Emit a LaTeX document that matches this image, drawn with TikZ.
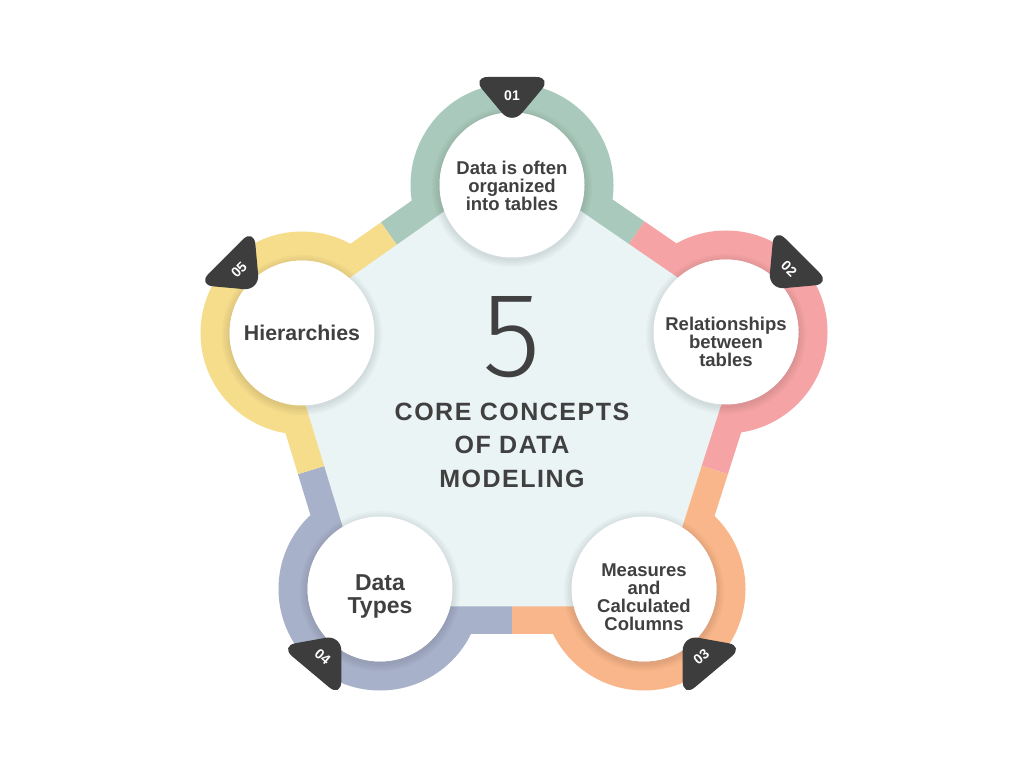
\documentclass[tikz,border=0pt]{standalone}
\usepackage{fontspec}
\setmainfont{Liberation Sans}
\newfontfamily\titlefont{Liberation Sans}[LetterSpace=6]
\IfFontExistsTF{Fira Sans Light}{\newfontfamily\lightfont{Fira Sans Light}}{%
  \IfFontExistsTF{Lato Light}{\newfontfamily\lightfont{Lato Light}}{%
    \IfFontExistsTF{Open Sans Light}{\newfontfamily\lightfont{Open Sans Light}}{%
      \newfontfamily\lightfont{Liberation Sans}}}}
\usetikzlibrary{calc}
\definecolor{cg}{HTML}{A8C9BB}
\definecolor{cp}{HTML}{F5A3A4}
\definecolor{co}{HTML}{F9B68A}
\definecolor{cb}{HTML}{A7B1CA}
\definecolor{cy}{HTML}{F6DD8C}
\definecolor{bgc}{HTML}{EAF4F5}
\definecolor{dk}{HTML}{3D3D3D}
\definecolor{txt}{HTML}{404040}
\begin{document}
\begin{tikzpicture}[x=1pt,y=1pt,
  ring/.style={line width=29pt},
  band/.style={line width=28pt},
  wc/.style={circle,fill=white,minimum size=145pt,inner sep=0pt},
  lbl/.style={align=center,text=txt,inner sep=0pt,font=\bfseries\fontsize{18.5}{18}\selectfont},
  num/.style={text=white,font=\bfseries\fontsize{14}{14}\selectfont,inner sep=0pt},
  tri/.style={fill=dk,rounded corners=16pt}]
\useasboundingbox (0,0) rectangle (1024,768);
\fill[white] (0,0) rectangle (1024,768);
\coordinate (C1) at (512,583);
\coordinate (C2) at (726,436);
\coordinate (C3) at (644,179);
\coordinate (C4) at (380,179);
\coordinate (C5) at (302,435);
% rings
\draw[ring,cg] (C1) circle (87);
\draw[ring,cp] (C2) circle (87);
\draw[ring,co] (C3) circle (87);
\draw[ring,cb] (C4) circle (87);
\draw[ring,cy] (C5) circle (87);
% bands
\foreach \a/\b/\ca/\cc in {1/2/cg/cp,2/3/cp/co,3/4/co/cb,4/5/cb/cy,5/1/cy/cg}{
  \coordinate (M) at ($(C\a)!0.5!(C\b)$);
  \draw[band,\ca] ($(C\a)!31pt!90:(C\b)$) -- ($(M)!31pt!90:(C\b)$);
  \draw[band,\cc] ($(M)!31pt!90:(C\b)$) -- ($(C\b)!31pt!-90:(C\a)$);
}
% pentagon fill
\filldraw[fill=bgc,draw=bgc,line width=35pt,line join=miter] (C1)--(C2)--(C3)--(C4)--(C5)--cycle;
% shadows
\foreach \i in {1,...,5}{
  \foreach \r in {74,76,78,80}{
    \fill[black,opacity=0.022] ($(C\i)+(0,-2)$) circle (\r);
  }
}
% white circles
\foreach \i in {1,...,5}{ \node[wc] (n\i) at (C\i) {}; }
% triangles with numbers
\foreach \i/\th/\tr/\n in {1/90/0/01,2/45/-45/02,3/-50/40/03,4/-130/-40/04,5/135/45/05}{
  \begin{scope}[shift={(C\i)},rotate=\th-90]
    \fill[tri] (-40,108) -- (40,108) -- (0,60) -- cycle;
    \node[num,rotate=\tr] (k\i) at (0,89) {\n};
  \end{scope}
}
% labels
\node[lbl] (t1) at (512,582) {Data is often\\organized\\into tables};
\node[lbl] (t2) at (726,426.5) {Relationships\\between\\tables};
\node[lbl] (t3) at (644,171) {Measures\\and\\Calculated\\Columns};
\node[lbl,font=\bfseries\fontsize{23}{23}\selectfont] (t4) at (380,171.5) {Data\\Types};
\node[lbl,font=\bfseries\fontsize{21.3}{22}\selectfont] (t5) at (302,435) {Hierarchies};
% center
\node[text=txt,anchor=base,inner sep=0pt] (five) at (512,391) {\resizebox{!}{80pt}{\lightfont 5}};
\node[align=center,text=txt,font=\titlefont\bfseries\fontsize{25}{33.5}\selectfont] (title) at (512,323) {CORE CONCEPTS\\OF DATA\\MODELING};
\end{tikzpicture}
\end{document}
